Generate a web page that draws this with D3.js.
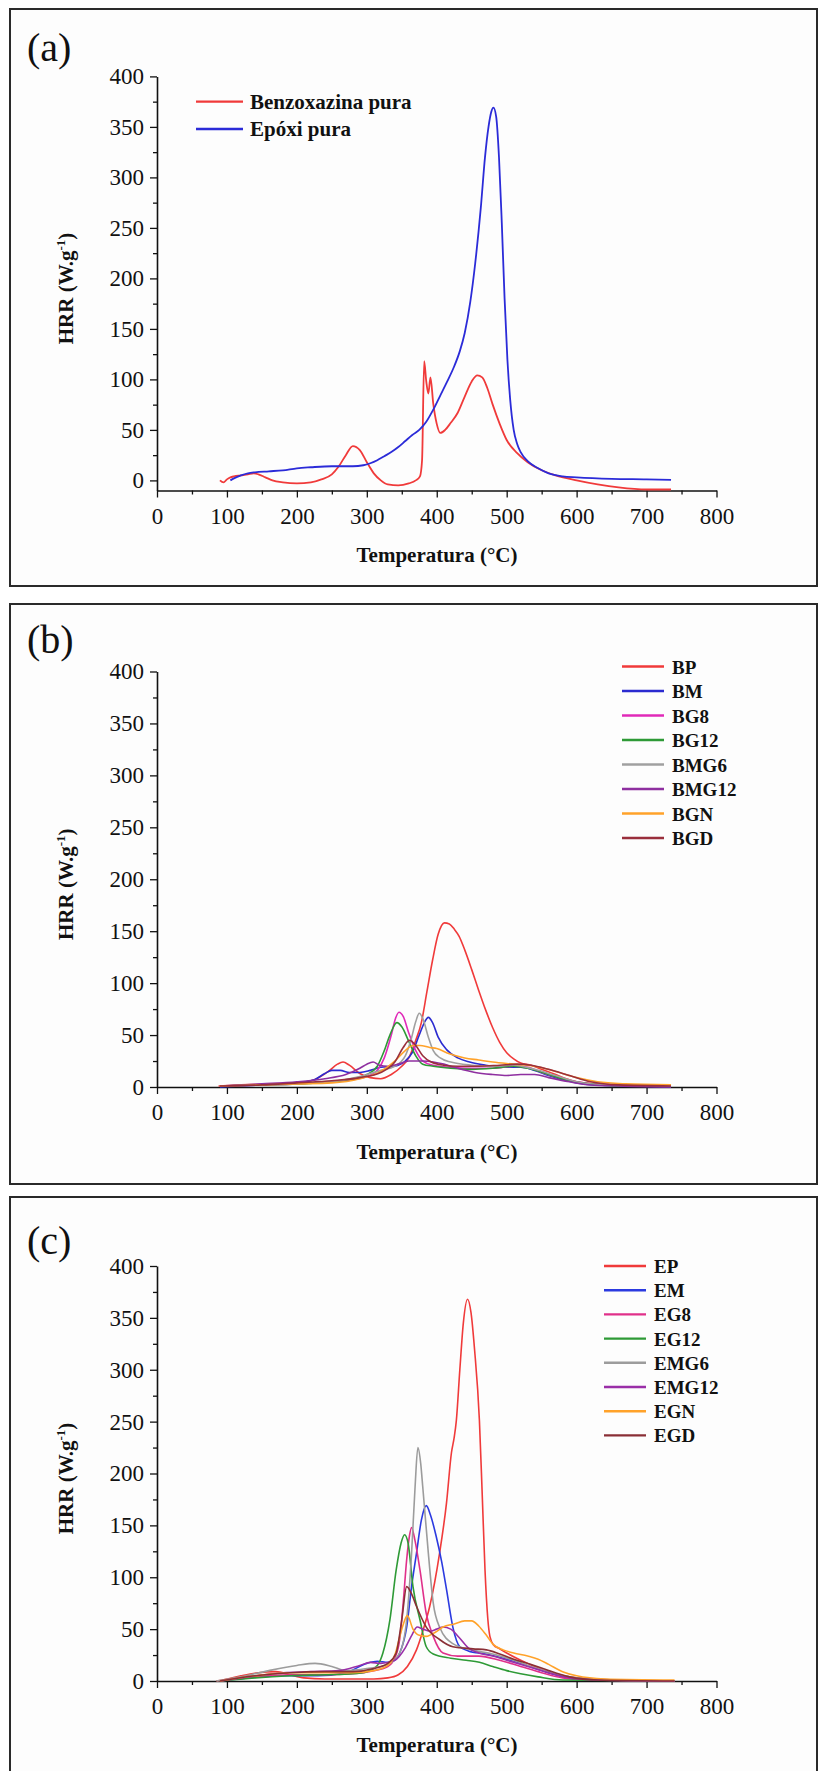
<!DOCTYPE html>
<html><head><meta charset="utf-8">
<script src="https://cdn.jsdelivr.net/npm/d3@7"></script>
<style>
html,body{margin:0;padding:0;background:#fff;}
svg text{font-family:"Liberation Serif","Times New Roman",serif;fill:#111;}
</style></head>
<body><svg id="c" width="820" height="1771"></svg>
<script>
// ---------------- DATA ----------------
const xTicks = [0,100,200,300,400,500,600,700,800];
const yTicks = [0,50,100,150,200,250,300,350,400];
const panelLabels = ["(a)","(b)","(c)"];
const xTitle = "Temperatura (°C)";

// Panel (a)
const namesA = ["Benzoxazina pura","Epóxi pura"];
const colorsA = ["#f03a3a","#2b2bd8"];
const benzoxazina = [[90,0],[95,-2],[100,1],[105,3],[110,4],[120,5],[130,6],[138,7],[145,6],[155,3],[165,0],[180,-2],[200,-3],[220,-2],[235,1],[250,6],[260,14],[270,25],[280,34],[290,30],[300,18],[310,7],[320,0],[330,-4],[345,-5],[360,-3],[370,0],[376,4],[379,20],[382,118],[385,98],[388,86],[391,102],[395,76],[400,56],[405,47],[412,50],[420,57],[430,67],[440,83],[450,98],[458,104],[465,102],[472,92],[480,75],[490,56],[500,40],[515,27],[530,18],[550,10],[570,5],[600,0],[630,-4],[660,-7],[700,-9],[735,-9]];
const epoxi = [[105,0],[110,2],[120,5],[130,7],[140,8],[160,9],[180,10],[200,12],[220,13],[250,14],[280,14],[295,15],[305,17],[315,20],[325,24],[335,28],[345,33],[355,39],[365,45],[375,50],[385,58],[395,70],[405,84],[415,98],[425,113],[433,128],[440,146],[448,177],[455,215],[463,270],[469,320],[474,350],[478,365],[481,369],[485,360],[489,320],[493,255],[497,180],[501,120],[505,80],[510,50],[515,36],[520,28],[530,19],[545,12],[560,7],[580,4],[600,3],[650,1.5],[700,1],[735,0.5]];

// Panel (b)
const namesB = ["BP","BM","BG8","BG12","BMG6","BMG12","BGN","BGD"];
const colorsB = ["#f03a3a","#2b2bd0","#e02ab8","#2e9a36","#a0a0a0","#8e2fa0","#ffa22a","#9a2f3c"];
const BP = [[88,1],[120,2],[160,3],[200,4],[225,7],[245,15],[258,22],[266,24],[275,21],[290,13],[305,9],[320,8],[335,12],[350,20],[360,28],[370,45],[378,62],[386,92],[394,122],[402,147],[411,158],[418,157],[425,152],[432,145],[440,132],[450,113],[460,93],[470,74],[480,57],[490,43],[500,33],[510,27],[520,23],[535,21],[550,17],[566,13],[585,8],[600,5],[630,3],[670,2],[735,1]];
const BM = [[90,0],[150,2],[200,4],[225,7],[240,13],[250,16],[262,16],[275,14],[290,14],[305,16],[320,19],[340,20],[355,25],[365,33],[375,50],[383,63],[388,67],[394,62],[402,48],[414,36],[430,28],[447,24],[470,21],[500,19],[520,19],[540,16],[560,11],[580,7],[600,4],[630,2],[680,1],[735,0]];
const BG8 = [[90,1],[150,2],[200,3],[250,5],[280,7],[300,10],[315,16],[325,28],[335,50],[341,66],[346,72],[352,68],[360,52],[370,35],[380,25],[395,21],[420,19],[450,18],[480,18],[510,20],[530,19],[550,14],[575,9],[600,5],[640,2],[735,1]];
const BG12 = [[90,1],[150,2],[200,3],[250,5],[280,8],[300,12],[315,20],[325,35],[333,50],[343,62],[350,58],[360,44],[370,30],[380,22],[395,20],[420,18],[450,17],[480,18],[510,20],[530,18],[560,12],[590,6],[620,3],[660,1],[735,1]];
const BMG6 = [[90,1],[150,2],[200,3],[250,5],[290,10],[320,16],[340,20],[355,30],[363,45],[370,63],[375,71],[380,66],[388,48],[395,35],[405,28],[420,24],[450,21],[480,20],[510,21],[540,17],[570,11],[600,5],[640,2],[735,1]];
const BMG12 = [[90,1],[150,3],[200,5],[240,8],[270,12],[290,18],[300,22],[309,24],[318,21],[330,20],[345,22],[360,25],[380,25],[395,24],[410,22],[430,18],[455,14],[480,12],[500,11],[520,12],[540,12],[560,9],[590,5],[620,2],[660,1],[735,0]];
const BGN = [[90,1],[150,2],[200,3],[250,4],[290,8],[320,15],[340,25],[355,35],[366,40],[376,40],[390,38],[400,37],[418,32],[440,28],[460,26],[480,24],[510,22],[540,20],[570,15],[600,9],[630,5],[670,3],[735,2]];
const BGD = [[90,1],[150,2],[200,4],[250,6],[290,9],[320,14],[340,24],[352,38],[361,45],[370,40],[380,30],[392,24],[410,21],[430,20],[460,20],[490,21],[515,22],[535,21],[560,17],[590,11],[620,5],[660,2],[735,1]];

// Panel (c)
const namesC = ["EP","EM","EG8","EG12","EMG6","EMG12","EGN","EGD"];
const colorsC = ["#f03a3a","#2b3ae0","#e0308a","#2e9a36","#9c9c9c","#9a2fa8","#ffa22a","#8a2f36"];
const EP = [[85,0],[100,2],[120,5],[145,8],[170,9],[190,6],[210,3],[240,2],[280,2],[310,2],[330,3],[345,6],[358,14],[371,30],[380,48],[390,72],[404,123],[414,172],[421,220],[425,235],[428,251],[433,300],[438,345],[444,368],[449,355],[454,320],[461,251],[465,180],[469,107],[473,60],[476,43],[481,35],[490,31],[500,27],[520,20],[540,14],[560,8],[580,5],[600,3],[650,1],[740,0]];
const EM = [[90,0],[130,3],[180,5],[230,5],[270,8],[300,17],[315,19],[330,18],[340,20],[347,27],[357,52],[364,91],[371,123],[378,155],[385,169],[391,160],[399,140],[407,115],[414,88],[423,52],[433,33],[445,29],[470,26],[495,22],[520,17],[545,11],[570,6],[600,2],[650,1],[740,0]];
const EG8 = [[90,0],[140,4],[190,6],[240,6],[280,7],[310,10],[330,14],[340,22],[347,40],[352,75],[357,117],[361,140],[364,148],[369,135],[376,107],[385,65],[395,43],[409,27],[430,24],[460,24],[490,20],[520,14],[550,8],[580,3],[620,1],[740,0]];
const EG12 = [[90,0],[140,3],[190,5],[240,6],[280,7],[300,9],[315,15],[323,27],[333,59],[342,107],[349,133],[354,141],[359,133],[366,91],[376,59],[385,33],[395,26],[420,22],[442,20],[461,18],[480,14],[500,10],[520,7],[545,4],[580,1],[740,0]];
const EMG6 = [[85,0],[120,4],[160,10],[200,15],[226,17],[250,14],[270,10],[300,12],[330,16],[347,27],[357,59],[364,123],[369,187],[373,225],[377,210],[380,187],[388,123],[395,75],[404,52],[423,36],[450,30],[480,26],[510,20],[540,13],[570,7],[600,3],[650,1],[740,0]];
const EMG12 = [[90,0],[130,4],[180,8],[220,9],[260,10],[290,15],[305,18],[320,17],[340,20],[355,32],[365,45],[372,52],[380,50],[390,48],[400,50],[409,52],[420,50],[432,42],[445,32],[460,27],[480,24],[500,20],[530,14],[560,8],[590,3],[630,1],[740,0]];
const EGN = [[90,0],[140,5],[190,8],[240,8],[280,8],[310,10],[330,15],[340,25],[350,50],[358,63],[366,50],[375,44],[385,43],[398,47],[409,52],[425,55],[440,58],[450,58],[460,53],[470,45],[481,35],[495,30],[510,27],[530,24],[545,21],[560,16],[580,9],[600,5],[640,2],[740,1]];
const EGD = [[90,0],[140,5],[190,8],[240,9],[280,9],[310,12],[330,17],[342,27],[350,59],[357,91],[364,84],[371,72],[385,52],[404,40],[423,33],[452,31],[471,30],[490,26],[510,21],[535,16],[560,10],[590,4],[630,1],[740,0]];

// ---------------- DRAW ----------------
const svg = d3.select("#c");
const FONT = '"Liberation Serif","Times New Roman",serif';

const panels = [
  {box:[10,9,807,577], label:panelLabels[0], labelY:61, yDomain:[-10,400], yRange:[490.5,76.4],
   series:[benzoxazina,epoxi], names:namesA, colors:colorsA,
   leg:{y0:101.6, dy:27.4, x1:196, x2:243, tx:250, fs:21}, xTickY:524, xTitleY:562, sw:1.8},
  {box:[10,604,807,580], label:panelLabels[1], labelY:653, yDomain:[0,400], yRange:[1087,671.5],
   series:[BP,BM,BG8,BG12,BMG6,BMG12,BGN,BGD], names:namesB, colors:colorsB,
   leg:{y0:666.5, dy:24.5, x1:622, x2:664, tx:672, fs:19}, xTickY:1120, xTitleY:1159, sw:1.6},
  {box:[10,1197,807,620], label:panelLabels[2], labelY:1254, yDomain:[0,400], yRange:[1681,1266],
   series:[EP,EM,EG8,EG12,EMG6,EMG12,EGN,EGD], names:namesC, colors:colorsC,
   leg:{y0:1266, dy:24.2, x1:604, x2:646, tx:654, fs:19}, xTickY:1714, xTitleY:1752, sw:1.6}
];

panels.forEach(p => {
  const g = svg.append("g");
  g.append("rect").attr("x",p.box[0]).attr("y",p.box[1]).attr("width",p.box[2]).attr("height",p.box[3])
    .attr("fill","#fdfdfd").attr("stroke","#2a2a2a").attr("stroke-width",2);
  g.append("text").attr("x",27).attr("y",p.labelY).attr("font-size",40).text(p.label);

  const x = d3.scaleLinear().domain([0,800]).range([157,716.5]);
  const y = d3.scaleLinear().domain(p.yDomain).range(p.yRange);
  const y0 = p.yRange[0];

  // minor ticks
  const xMinor = d3.range(50,800,100);
  const yMinor = d3.range(25,400,50);
  g.append("g").attr("transform",`translate(0,${y0})`)
    .call(d3.axisBottom(x).tickValues(xMinor).tickSize(4).tickFormat("").tickSizeOuter(0))
    .call(s=>s.select(".domain").remove()).selectAll("line").attr("stroke","#111").attr("stroke-width",1.3);
  g.append("g").attr("transform",`translate(157,0)`)
    .call(d3.axisLeft(y).tickValues(yMinor).tickSize(4).tickFormat("").tickSizeOuter(0))
    .call(s=>s.select(".domain").remove()).selectAll("line").attr("stroke","#111").attr("stroke-width",1.3);

  // major axes
  const gx = g.append("g").attr("transform",`translate(0,${y0})`)
    .call(d3.axisBottom(x).tickValues(xTicks).tickSize(7).tickSizeOuter(0).tickFormat(d3.format("d")));
  gx.select(".domain").attr("stroke","#111").attr("stroke-width",1.6);
  gx.selectAll("line").attr("stroke","#111").attr("stroke-width",1.3);
  gx.selectAll("text").attr("y", p.xTickY - y0).attr("dy",null).attr("font-size",23)
    .attr("font-family",FONT).attr("fill","#111");

  const gy = g.append("g").attr("transform",`translate(157,0)`)
    .call(d3.axisLeft(y).tickValues(yTicks).tickSize(7).tickSizeOuter(0).tickPadding(6).tickFormat(d3.format("d")));
  gy.select(".domain").attr("stroke","#111").attr("stroke-width",1.6);
  gy.selectAll("line").attr("stroke","#111").attr("stroke-width",1.3);
  gy.selectAll("text").attr("font-size",23).attr("font-family",FONT).attr("fill","#111");

  // titles
  g.append("text").attr("x",437).attr("y",p.xTitleY).attr("text-anchor","middle")
    .attr("font-size",21).attr("font-weight","bold").text(xTitle);
  const cy = (p.yRange[0]+p.yRange[1])/2 + 5;
  const yt = g.append("text").attr("transform",`translate(73,${cy}) rotate(-90)`).attr("text-anchor","middle")
    .attr("font-size",21).attr("font-weight","bold");
  yt.append("tspan").text("HRR (W.g");
  yt.append("tspan").attr("dy",-8).attr("font-size",13).text("-1");
  yt.append("tspan").attr("dy",8).text(")");

  // lines
  const line = d3.line().x(d=>x(d[0])).y(d=>y(d[1])).curve(d3.curveMonotoneX);
  p.series.forEach((s,i)=>{
    g.append("path").datum(s).attr("d",line).attr("fill","none")
      .attr("stroke",p.colors[i]).attr("stroke-width",p.sw).attr("stroke-linejoin","round");
  });

  // legend
  p.names.forEach((n,i)=>{
    const ly = p.leg.y0 + i*p.leg.dy;
    g.append("line").attr("x1",p.leg.x1).attr("x2",p.leg.x2).attr("y1",ly).attr("y2",ly)
      .attr("stroke",p.colors[i]).attr("stroke-width",2.4);
    g.append("text").attr("x",p.leg.tx).attr("y",ly+7).attr("font-size",p.leg.fs)
      .attr("font-weight","bold").text(n);
  });
});
</script></body></html>
